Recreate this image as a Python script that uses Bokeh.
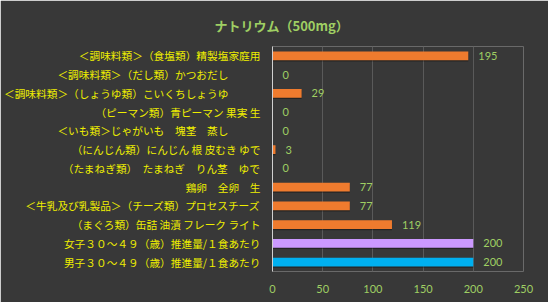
from bokeh.plotting import figure
from bokeh.models import FactorRange, Range1d, FixedTicker, ColumnDataSource
from bokeh.transform import dodge
from bokeh.core.properties import value
from bokeh.embed import file_html
from bokeh.resources import INLINE

# ---- data (top to bottom as in the chart) ----
categories = [
    "＜調味料類＞（食塩類）精製塩家庭用",
    "＜調味料類＞（だし類）かつおだし　　　",
    "＜調味料類＞（しょうゆ類）こいくちしょうゆ　　　",
    "（ピーマン類）青ピーマン 果実 生",
    "＜いも類＞じゃがいも　塊茎　蒸し　　　",
    "（にんじん類）にんじん 根 皮むき ゆで",
    "（たまねぎ類）　たまねぎ　りん茎　ゆで",
    "鶏卵　全卵　生",
    "＜牛乳及び乳製品＞（チーズ類）プロセスチーズ",
    "（まぐろ類）缶詰 油漬 フレーク ライト",
    "女子３０～４９（歳）推進量/１食あたり",
    "男子３０～４９（歳）推進量/１食あたり",
]
values = [195, 0, 29, 0, 0, 3, 0, 77, 77, 119, 200, 200]
bar_colors = ["#ef7b2e"] * 10 + ["#cc99ff", "#00b0f0"]
x_ticks = [0, 50, 100, 150, 200, 250]
title_text = "ナトリウム（500mg）"

BG = "#383838"
GREEN = "#9fcf63"
YELLOW = "#eeee00"
JP = "Noto Sans CJK JP"

src = ColumnDataSource(dict(
    cat=categories,
    val=values,
    color=bar_colors,
    label=[str(v) for v in values],
))

p = figure(
    width=548, height=302,
    y_range=FactorRange(factors=categories[::-1], range_padding=0),
    x_range=Range1d(0, 250),
    output_backend="svg", toolbar_location=None,
    min_border_left=268, min_border_right=25,
    min_border_top=46, min_border_bottom=31,
    title=title_text,
)
p.background_fill_color = BG
p.border_fill_color = BG
p.outline_line_color = None

p.title.align = "left"
p.title.offset = -58
p.title.standoff = 23
p.title.text_font = JP
p.title.text_font_size = "13px"
p.title.text_font_style = "bold"
p.title.text_color = GREEN

# shadow
p.hbar(y=dodge("cat", -0.07, range=p.y_range), left=0, right="val", height=0.46,
       source=src, fill_color="black", fill_alpha=0.35, line_color=None)
p.hbar(y="cat", left=0, right="val", height=0.46, source=src,
       fill_color="color", line_color=None)

p.text(x="val", y="cat", text="label", source=src, x_offset=10,
       text_align="left", text_baseline="middle",
       text_font=value("Lato"), text_font_size="11px", text_color=GREEN)

# axes
p.xaxis.ticker = FixedTicker(ticks=x_ticks)
p.xaxis.axis_line_color = None
p.xaxis.major_tick_line_color = None
p.xaxis.minor_tick_line_color = None
p.xaxis.major_label_text_color = GREEN
p.xaxis.major_label_text_font = "Lato"
p.xaxis.major_label_text_font_size = "11px"
p.xaxis.major_label_standoff = 7

p.yaxis.axis_line_color = "#d0d0d0"
p.yaxis.major_tick_line_color = None
p.yaxis.minor_tick_line_color = None
p.yaxis.major_label_text_color = YELLOW
p.yaxis.major_label_text_font = JP
p.yaxis.major_label_text_font_size = "10.7px"
p.yaxis.major_label_standoff = 6

p.xgrid.ticker = FixedTicker(ticks=x_ticks)
p.xgrid.grid_line_color = "#5a5a5a"
p.ygrid.grid_line_color = None

open("out.html", "w").write(file_html(p, INLINE))
